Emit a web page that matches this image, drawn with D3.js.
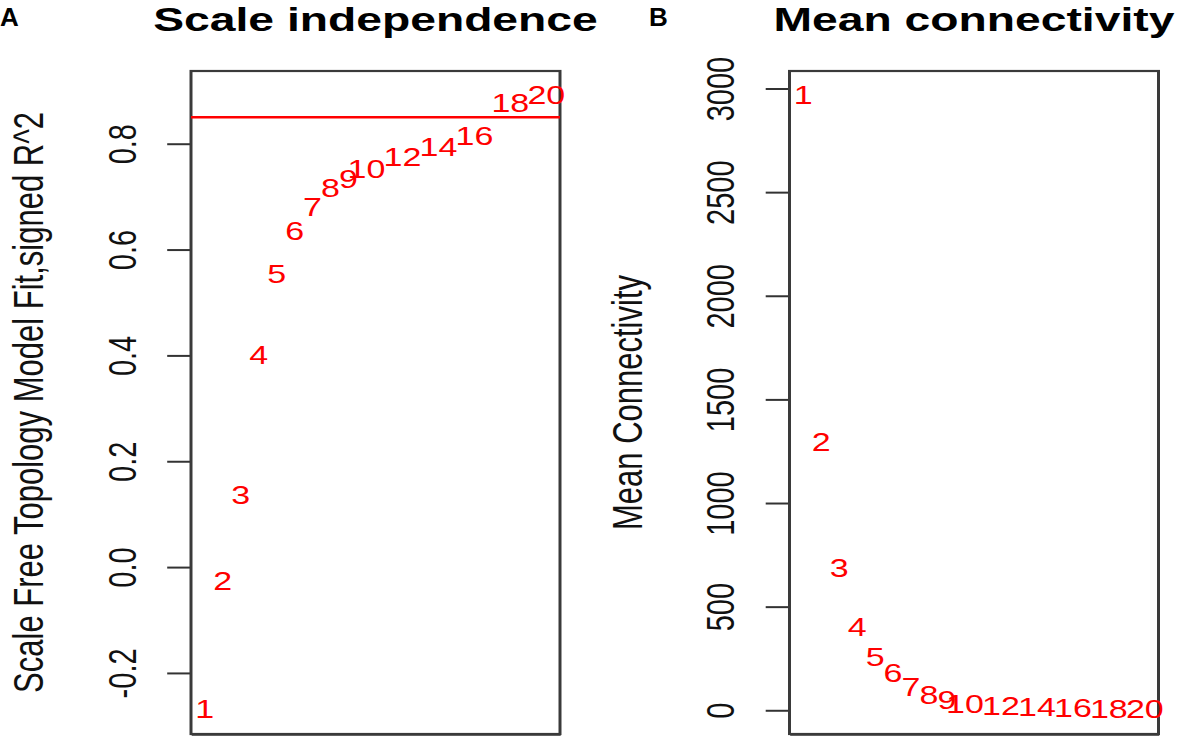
<!DOCTYPE html>
<html>
<head>
  <meta charset="utf-8">
  <script type="text/javascript" src="https://cdn.jsdelivr.net/npm/d3@7/dist/d3.min.js"></script>
  <style>
    body { margin: 0; background: #fff; }
    text { font-family: "Liberation Sans", Arial, Helvetica, sans-serif; }
  </style>
</head>
<body>
<div id="viz"></div>
<script type="text/javascript">
// soft-threshold powers (WGCNA pickSoftThreshold output)
var powers = [1, 2, 3, 4, 5, 6, 7, 8, 9, 10, 12, 14, 16, 18, 20];
var signedR2 = [-0.269, -0.026, 0.135, 0.40, 0.554, 0.635, 0.679, 0.715, 0.732, 0.751, 0.775, 0.794, 0.815, 0.877, 0.891];
var meanK = [2966, 1295, 683, 402, 258, 178, 109, 74, 50, 30, 21, 16, 12, 7, 4];
var r2Ticks = [-0.2, 0.0, 0.2, 0.4, 0.6, 0.8];
var kTicks = [0, 500, 1000, 1500, 2000, 2500, 3000];
var xTicks = [5, 10, 15, 20];
var r2Cutoff = 0.85;

var W = 1181, H = 741;
var sx = 1.36; // the figure is stretched sideways compared to the R device

var svg = d3.select("#viz").append("svg")
  .attr("width", W)
  .attr("height", H);

// R style axis range: data range plus 4% each side
function rRange(ext) {
  var d = ext[1] - ext[0];
  return [ext[0] - 0.04 * d, ext[1] + 0.04 * d];
}

// R prints a plain hyphen for negatives
var fmt1 = function(d) { return d3.format(".1f")(d).replace("\u2212", "-"); };

var plot = svg.append("g").attr("transform", "scale(" + sx + ",1)");

function panel(p) {
  var g = plot.append("g");
  var x = d3.scaleLinear().domain(rRange(d3.extent(powers))).range([p.left / sx, p.right / sx]);
  var y = d3.scaleLinear().domain(rRange(d3.extent(p.values))).range([734, 71]);

  // y axis, labels parallel to the axis
  var ya = g.append("g")
    .attr("transform", "translate(" + x.range()[0] + ",0)")
    .call(d3.axisLeft(y).tickValues(p.ticks).tickSizeOuter(0).tickSizeInner(17.5)
      .tickFormat(p.fmt));
  ya.select(".domain").remove();
  ya.selectAll("line").attr("stroke", "#333").attr("stroke-width", 2);
  ya.selectAll("text")
    .attr("x", null).attr("dy", null)
    .attr("fill", "#111")
    .attr("font-size", 29)
    .attr("text-anchor", "middle")
    .attr("transform", "translate(-40.5,0) rotate(-90)");

  // x axis sits on the cropped lower edge
  var xa = g.append("g")
    .attr("transform", "translate(0," + y.range()[0] + ")")
    .call(d3.axisBottom(x).tickValues(xTicks).tickSize(0).tickFormat(""));
  xa.select(".domain").attr("stroke", "#333").attr("stroke-width", 2.5);

  g.append("rect")
    .attr("x", x.range()[0])
    .attr("y", y.range()[1])
    .attr("width", x.range()[1] - x.range()[0])
    .attr("height", y.range()[0] - y.range()[1])
    .attr("fill", "none")
    .attr("stroke", "#3a3a3a")
    .attr("stroke-width", 2.2);

  if (p.hline != null) {
    g.append("line")
      .attr("x1", x.range()[0]).attr("x2", x.range()[1])
      .attr("y1", y(p.hline)).attr("y2", y(p.hline))
      .attr("stroke", "red")
      .attr("stroke-width", 2.5);
  }

  g.selectAll("text.pt")
    .data(powers)
    .enter()
    .append("text")
    .attr("class", "pt")
    .attr("x", function(d) { return x(d); })
    .attr("y", function(d, i) { return y(p.values[i]); })
    .attr("dy", "0.35em")
    .attr("text-anchor", "middle")
    .attr("font-size", 25)
    .attr("fill", "red")
    .text(function(d) { return d; });

  g.append("text")
    .attr("transform", "translate(" + (x.range()[0] - 108.5) + "," + ((y.range()[0] + y.range()[1]) / 2) + ") rotate(-90)")
    .attr("text-anchor", "middle")
    .attr("font-size", 31)
    .attr("fill", "#111")
    .text(p.ylab);

  g.append("text")
    .attr("x", (x.range()[0] + x.range()[1]) / 2)
    .attr("y", 31)
    .attr("text-anchor", "middle")
    .attr("font-size", 34)
    .attr("font-weight", "bold")
    .attr("fill", "#000")
    .text(p.title);
}

panel({
  left: 191, right: 560,
  values: signedR2, ticks: r2Ticks, fmt: fmt1,
  hline: r2Cutoff,
  title: "Scale independence",
  ylab: "Scale Free Topology Model Fit,signed R^2"
});

panel({
  left: 789.5, right: 1158.5,
  values: meanK, ticks: kTicks, fmt: d3.format("d"),
  hline: null,
  title: "Mean connectivity",
  ylab: "Mean Connectivity"
});

// panel letters were added on top of the figure, not stretched
svg.selectAll("text.letter")
  .data([{t: "A", x: 0}, {t: "B", x: 649}])
  .enter()
  .append("text")
  .attr("class", "letter")
  .attr("x", function(d) { return d.x; })
  .attr("y", 25.5)
  .attr("font-size", 26)
  .attr("font-weight", "bold")
  .text(function(d) { return d.t; });
</script>
</body>
</html>
